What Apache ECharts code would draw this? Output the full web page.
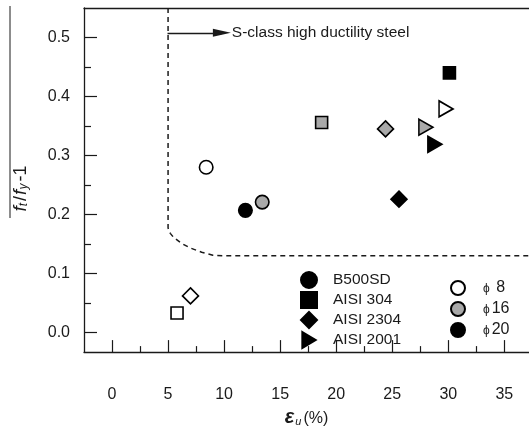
<!DOCTYPE html>
<html>
<head>
<meta charset="utf-8">
<script src="https://cdn.jsdelivr.net/npm/echarts@6/dist/echarts.min.js"></script>
<style>html,body{margin:0;padding:0;background:#fff}#c{width:529px;height:432px}</style>
</head>
<body>
<div id="c"></div>
<script>
// ---- data ----
const steelTypes = ['B500SD', 'AISI 304', 'AISI 2304', 'AISI 2001'];
const diameterNames = ['ϕ 8', 'ϕ16', 'ϕ20'];
const diameterValues = [8, 16, 20];
// [strain eu (%), ft/fy - 1, bar diameter]
const b500sd   = [[8.4, 0.280, 8], [13.4, 0.221, 16], [11.9, 0.207, 20]];
const aisi304  = [[5.8, 0.033, 8], [18.7, 0.356, 16], [30.1, 0.440, 20]];
const aisi2304 = [[7.0, 0.062, 8], [24.4, 0.345, 16], [25.6, 0.226, 20]];
const aisi2001 = [[29.8, 0.379, 8], [28.0, 0.348, 16], [28.8, 0.319, 20]];
const boundaryX = [5, 5, 5.2, 5.5, 6.2, 7, 8, 9, 10, 37.2];
const boundaryY = [0.55, 0.177, 0.168, 0.161, 0.151, 0.143, 0.136, 0.131, 0.13, 0.13];
const arrowStart = [4.95, 0.508];
const arrowEnd = [9.8, 0.508];
const annotationText = 'S-class high ductility steel';
const xTicks = [0, 5, 10, 15, 20, 25, 30, 35];
const xMinorTicks = [2.5, 7.5, 12.5, 17.5, 22.5, 27.5, 32.5];
const yTicks = [0, 0.1, 0.2, 0.3, 0.4, 0.5];
const yMinorTicks = [0.05, 0.15, 0.25, 0.35, 0.45];
const xRange = [-2.5, 37.2];
const yRange = [-0.0333, 0.55];

const fillByDiameter = {8: '#ffffff', 16: '#a9a9a9', 20: '#000000'};
const FONT = '"Liberation Sans", Arial, Helvetica, sans-serif';
const INK = '#1a1a1a';

function pts(arr) {
  return arr.map(d => ({
    value: [d[0], d[1]],
    itemStyle: {color: fillByDiameter[d[2]], borderColor: '#000', borderWidth: 1.6, opacity: 1}
  }));
}

const chart = echarts.init(document.getElementById('c'), null, {renderer: 'canvas'});

const baseX = {min: xRange[0], max: xRange[1], gridIndex: 0, splitLine: {show: false}};
const baseY = {min: yRange[0], max: yRange[1], gridIndex: 0, splitLine: {show: false}};

const triPath = 'path://M0,0L10,6L0,12Z';
const markerStyle = {color: '#000', borderColor: '#000', borderWidth: 1.6, opacity: 1};

const option = {
  animation: false,
  backgroundColor: '#fff',
  textStyle: {fontFamily: FONT},
  grid: {left: 84, top: 8, right: 0, bottom: 74, containLabel: false},
  xAxis: [
    Object.assign({}, baseX, {
      type: 'value', position: 'bottom',
      axisLine: {show: true, onZero: false, lineStyle: {color: INK, width: 1.3}},
      axisTick: {show: true, inside: true, length: 12, customValues: xTicks, lineStyle: {color: INK, width: 1.2}},
      axisLabel: {show: true, customValues: xTicks, margin: 34, color: INK, fontSize: 16, fontFamily: FONT},
      name: '{e|ε}{s|u}{n|(%)}', nameLocation: 'middle', nameGap: 48,
      nameTextStyle: {
        rich: {
          e: {fontSize: 20, fontWeight: 'bold', fontStyle: 'italic', fontFamily: FONT, color: INK, lineHeight: 20, verticalAlign: 'bottom'},
          s: {fontSize: 11, fontStyle: 'italic', fontFamily: FONT, color: INK, lineHeight: 10, verticalAlign: 'bottom', padding: [0, 2, 0, 1]},
          n: {fontSize: 16, fontFamily: FONT, color: INK, lineHeight: 20, verticalAlign: 'bottom'}
        }
      }
    }),
    Object.assign({}, baseX, {
      type: 'value', position: 'bottom',
      axisLine: {show: false, onZero: false},
      axisTick: {show: true, inside: true, length: 6, customValues: xMinorTicks, lineStyle: {color: INK, width: 1.2}},
      axisLabel: {show: false}
    }),
    Object.assign({}, baseX, {
      type: 'value', position: 'top',
      axisLine: {show: true, onZero: false, lineStyle: {color: INK, width: 1.3}},
      axisTick: {show: false},
      axisLabel: {show: false}
    })
  ],
  yAxis: [
    Object.assign({}, baseY, {
      type: 'value', position: 'left',
      axisLine: {show: true, onZero: false, lineStyle: {color: INK, width: 1.3}},
      axisTick: {show: true, inside: true, length: 13, customValues: yTicks, lineStyle: {color: INK, width: 1.2}},
      axisLabel: {show: true, customValues: yTicks, margin: 14, color: INK, fontSize: 16, fontFamily: FONT,
        formatter: v => v.toFixed(1)},
      name: '{f|f}{s|t}{n|/}{f|f}{s|y}{n|-1}', nameLocation: 'middle', nameGap: 54, nameRotate: 90,
      nameTextStyle: {
        padding: [0, 16, 0, 0],
        rich: {
          f: {fontSize: 19, fontStyle: 'italic', fontFamily: FONT, color: INK, lineHeight: 20, verticalAlign: 'bottom'},
          s: {fontSize: 12, fontStyle: 'italic', fontFamily: FONT, color: INK, lineHeight: 10, verticalAlign: 'bottom', padding: [0, 1, 0, 0]},
          n: {fontSize: 18, fontFamily: FONT, color: INK, lineHeight: 20, verticalAlign: 'bottom', padding: [0, 1, 0, 1]}
        }
      }
    }),
    Object.assign({}, baseY, {
      type: 'value', position: 'left',
      axisLine: {show: false, onZero: false},
      axisTick: {show: true, inside: true, length: 7, customValues: yMinorTicks, lineStyle: {color: INK, width: 1.2}},
      axisLabel: {show: false}
    })
  ],
  legend: [
    {
      data: steelTypes, orient: 'vertical', left: 295, top: 266,
      itemWidth: 16, itemHeight: 16, itemGap: 2,
      textStyle: {fontSize: 15.5, color: INK, fontFamily: FONT, padding: [0, 0, 0, 11]},
      selectedMode: false
    },
    {
      data: diameterNames, orient: 'vertical', left: 445, top: 275,
      itemWidth: 14, itemHeight: 14, itemGap: 5,
      formatter: name => '{p|' + name.charAt(0) + '}{n|' + name.slice(1) + '}',
      textStyle: {
        fontSize: 16, color: INK, fontFamily: FONT, padding: [0, 0, 0, 13],
        rich: {
          p: {fontSize: 12, color: INK, fontFamily: FONT, padding: [2, 2, 0, 0]},
          n: {fontSize: 16, color: INK, fontFamily: FONT}
        }
      },
      selectedMode: false
    }
  ],
  graphic: [
    {type: 'line', shape: {x1: 10, y1: 6, x2: 10, y2: 218}, style: {stroke: INK, lineWidth: 1}, silent: true}
  ],
  series: [
    {
      name: 'boundary', type: 'line', xAxisIndex: 0, yAxisIndex: 0,
      data: boundaryX.map((x, i) => [x, boundaryY[i]]),
      showSymbol: false, symbol: 'none', smooth: false,
      lineStyle: {color: INK, width: 1.5, type: [5, 4]},
      silent: true, z: 1,
      markLine: {
        silent: true, animation: false,
        symbol: ['none', 'triangle'], symbolSize: [8, 18],
        lineStyle: {color: INK, width: 1.3, type: 'solid'},
        label: {show: true, position: 'end', distance: 10, formatter: annotationText,
          color: INK, fontSize: 15.5, fontFamily: FONT},
        data: [[{coord: arrowStart}, {coord: arrowEnd}]]
      }
    },
    {
      name: steelTypes[0], type: 'scatter', symbol: 'circle', symbolSize: 13.5,
      itemStyle: markerStyle, data: pts(b500sd), z: 3
    },
    {
      name: steelTypes[1], type: 'scatter', symbol: 'rect', symbolSize: 12,
      itemStyle: markerStyle, data: pts(aisi304), z: 3
    },
    {
      name: steelTypes[2], type: 'scatter', symbol: 'diamond', symbolSize: 16,
      itemStyle: markerStyle, data: pts(aisi2304), z: 3
    },
    {
      name: steelTypes[3], type: 'scatter', symbol: triPath, symbolSize: [14, 16],
      itemStyle: markerStyle, data: pts(aisi2001), z: 3
    }
  ].concat(diameterNames.map((n, i) => ({
    name: n, type: 'scatter', symbol: 'circle', symbolSize: 14, data: [],
    itemStyle: {color: fillByDiameter[diameterValues[i]], borderColor: '#000', borderWidth: 1.6, opacity: 1}
  })))
};

chart.setOption(option);
</script>
</body>
</html>
